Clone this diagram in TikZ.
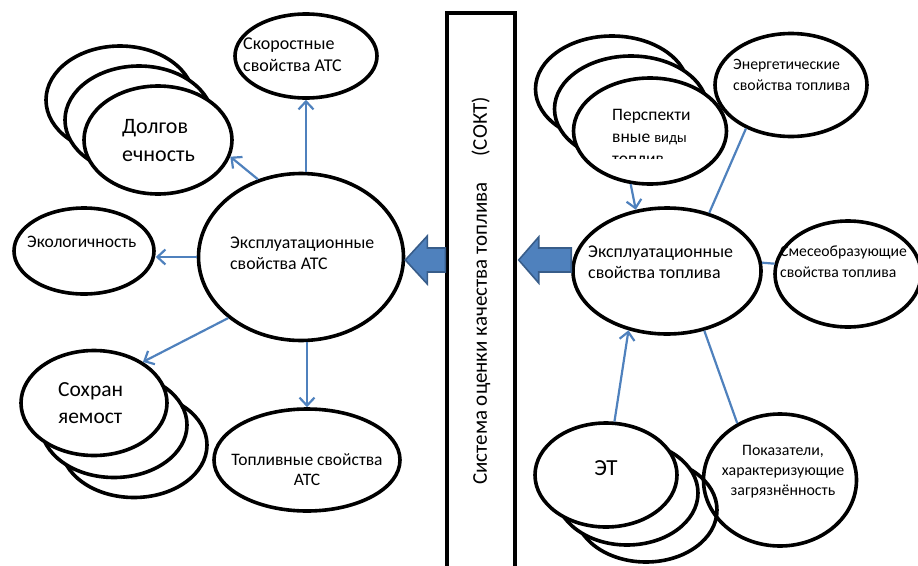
\documentclass[tikz,border=0pt]{standalone}
\usepackage{fontspec}
\setmainfont{Carlito}
\usetikzlibrary{shapes.geometric,arrows.meta,calc}
\definecolor{lineblue}{RGB}{79,129,189}
\definecolor{edgeblue}{RGB}{56,93,138}

\begin{document}
\begin{tikzpicture}[x=1pt,y=-1pt,
  oval/.style={ellipse,draw,line width=3.6pt,inner sep=0pt,fill=white},
  ring/.style={ellipse,draw,line width=3.6pt,inner sep=0pt},
  lbl/.style={inner sep=0pt,align=left,anchor=west},
  link/.style={draw=lineblue,line width=2.2pt},
  linkarrow/.style={link,-{Straight Barb[length=8pt,width=15pt,line width=2.2pt]}},
  blockarrow/.style={fill=lineblue,draw=edgeblue,line width=1.6pt,line join=miter}]
\useasboundingbox (0,0) rectangle (918,565);
\clip (0,0) rectangle (918,565);

\node[oval,minimum width=142pt,minimum height=84pt] (speed) at (306,56) {};
\node[oval,minimum width=140pt,minimum height=86pt] (eco) at (84,251) {};
\node[oval,minimum width=205pt,minimum height=167pt] (atc) at (301,257) {};
\node[oval,minimum width=186pt,minimum height=102pt] (fuelatc) at (307,460) {};
\node[oval,minimum width=148pt,minimum height=108pt] (dolg3) at (120,100) {};
\node[oval,minimum width=148pt,minimum height=108pt] (dolg2) at (139,120) {};
\node[oval,minimum width=148pt,minimum height=108pt] (dolg1) at (158,140) {};
\node[oval,minimum width=146pt,minimum height=105pt] (sohr3) at (134,445) {};
\node[oval,minimum width=146pt,minimum height=105pt] (sohr2) at (114,425) {};
\node[oval,minimum width=146pt,minimum height=105pt] (sohr1) at (94,403) {};

\node[oval,minimum width=153pt,minimum height=106pt] (persp3) at (612,89) {};
\node[oval,minimum width=153pt,minimum height=106pt] (persp2) at (631,109) {};
\node[oval,minimum width=153pt,minimum height=106pt] (persp1) at (650,131) {};
\node[ring,minimum width=152pt,minimum height=103pt] (energ) at (791,85) {};
\node[oval,minimum width=188pt,minimum height=126pt] (fuel) at (667,271) {};
\node[oval,minimum width=146pt,minimum height=106pt] (mix) at (848,274) {};
\node[oval,minimum width=142pt,minimum height=104pt] (et3) at (646,510) {};
\node[oval,minimum width=142pt,minimum height=104pt] (et2) at (627,493) {};
\node[oval,minimum width=142pt,minimum height=104pt] (et1) at (606,475) {};
\node[ring,minimum width=153pt,minimum height=132pt] (pok) at (780,480) {};

\node[draw,line width=3.4pt,rotate=90,minimum width=556pt,minimum height=68pt,inner sep=0pt,
  font=\fontsize{21}{24}\selectfont] (bar) at (481,291)
  {Система оценки качества топлива\hspace{26pt}(СОКТ)};

\draw[linkarrow] (atc.north -| speed.south) -- (speed.south);
\draw[linkarrow] (atc.119) -- (dolg1.-13);
\draw[linkarrow] (atc.west) -- (atc.west -| eco.east);
\draw[linkarrow] (atc.220) -- (sohr1.40);
\draw[linkarrow] (atc.south -| fuelatc.north) -- (fuelatc.north);

\draw[linkarrow] (persp1.250) -- (fuel.117);
\draw[link] (energ.224) -- (fuel.54);
\draw[link] (fuel.5) -- (mix.172);
\draw[linkarrow] (et1.81) -- (fuel.237);
\draw[link] (pok.127) -- (fuel.302);

\coordinate (tipL) at ($(atc.east)+(0,3)$);
\coordinate (tailL) at (bar.north |- tipL);
\filldraw[blockarrow] (tipL) -- ++(22,-24) -- ++(0,12) -- ($(tailL)+(0,-12)$)
  -- ++(0,24) -- ($(tipL)+(22,12)$) -- ++(0,12) -- cycle;
\coordinate (tipR) at ($(bar.south |- tipL)+(2,0)$);
\coordinate (tailR) at (fuel.west |- tipL);
\filldraw[blockarrow] (tipR) -- ++(20,-23) -- ++(0,11) -- ($(tailR)+(0,-12)$)
  -- ++(0,24) -- ($(tipR)+(20,12)$) -- ++(0,11) -- cycle;

\node[lbl,font=\fontsize{18}{22}\selectfont] (speed-t) at (243,55) {Скоростные\\свойства АТС};
\node[lbl,font=\fontsize{22}{28}\selectfont] (dolg-t) at (122,141) {Долгов\\ечность};
\node[lbl,font=\fontsize{17.5}{20}\selectfont] (eco-t) at (27,242) {Экологичность};
\node[lbl,font=\fontsize{17.8}{21}\selectfont] (atc-t) at (230,253) {Эксплуатационные\\свойства АТС};
\node[lbl,font=\fontsize{21.5}{27}\selectfont] (sohr-t) at (58,403) {Сохран\\яемост};
\node[lbl,anchor=center,align=center,font=\fontsize{17.5}{20}\selectfont] (fuelatc-t) at (307,470) {Топливные свойства\\АТС};

\begin{scope}
\clip (600,100) rectangle (730,158);
\node[lbl,font=\fontsize{17.5}{22}\selectfont] (persp-t) at (612,137)
  {Перспекти\\вные {\fontsize{14.5}{22}\selectfont виды}\\топлив};
\end{scope}
\node[lbl,font=\fontsize{15.8}{21}\selectfont] (energ-t) at (733,75) {Энергетические\\свойства топлива};
\node[lbl,font=\fontsize{17.9}{21}\selectfont] (fuel-t) at (588,262) {Эксплуатационные\\свойства топлива};
\node[lbl,font=\fontsize{15.7}{21}\selectfont] (mix-t) at (780,262) {Смесеобразующие\\свойства топлива};
\node[lbl,anchor=center,font=\fontsize{23}{24}\selectfont] (et-t) at (606,468) {ЭТ};
\node[lbl,anchor=center,align=center,font=\fontsize{15.9}{20}\selectfont] (pok-t) at (783,472)
  {Показатели,\\характеризующие\\загрязнённость};
\end{tikzpicture}
\end{document}
